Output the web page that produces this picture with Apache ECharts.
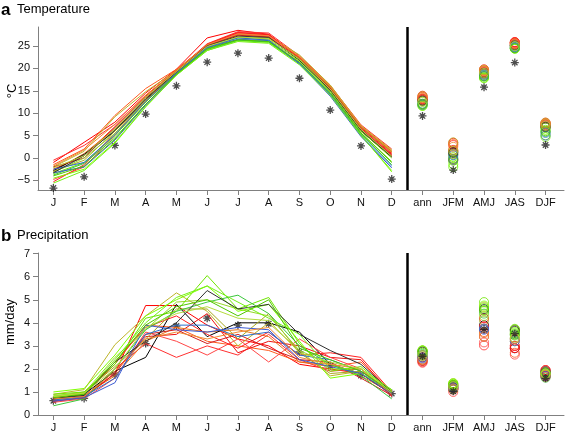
<!DOCTYPE html>
<html><head><meta charset="utf-8">
<script src="https://cdn.jsdelivr.net/npm/echarts@6.0.0/dist/echarts.min.js"></script>
<style>html,body{margin:0;padding:0;background:#fff}#c{width:567px;height:433px}</style>
</head><body><div id="c"></div>
<script>
// ---------- data ----------
const months = ['J','F','M','A','M','J','J','A','S','O','N','D'];
const seasons = ['ann','JFM','AMJ','JAS','DJF'];
const tempTicks = [-5,0,5,10,15,20,25];
const precipTicks = [0,1,2,3,4,5,6,7];

const modelColors = ['#ff0000','#ff3030','#ff5a1e','#bdb42a','#f01010','#e8741c','#000000','#ff4646','#ff2020','#d21e1e','#a8a820','#98d82a','#6ee600','#80ff00','#3cc83c','#3c5ad2','#2a6ecc','#303030','#74f014','#f08c32','#50c800','#b4dc3c'];

const tempObsMonthly = [-6.7,-4.2,2.8,9.8,16.1,21.4,23.4,22.3,17.8,10.7,2.7,-4.7];
const tempObsSeasonal = [9.4,-2.7,15.8,21.3,2.9];
const precipObsMonthly = [0.62,0.72,1.74,3.1,3.86,4.2,3.9,3.96,2.74,2.14,1.71,0.93];
const precipObsSeasonal = [2.55,1.03,3.72,3.53,1.59];

const tempModelMonthly = [
 [-1.0,3.5,8.0,14.5,19.8,26.8,28.5,27.6,22.5,16.0,7.0,1.5],
 [-0.5,2.8,7.5,14.0,19.5,25.5,28.2,27.9,22.8,16.2,7.4,2.0],
 [-1.5,2.0,9.5,15.5,19.8,25.2,27.8,27.4,22.3,15.8,7.0,1.2],
 [-2.0,1.5,9.2,14.8,19.5,25.0,27.5,27.2,23.0,16.3,7.2,1.8],
 [-2.5,0.5,7.0,13.8,19.6,25.3,28.0,27.5,22.2,15.5,6.5,0.8],
 [-3.0,1.0,6.5,13.5,19.2,25.0,27.6,27.0,22.0,15.2,6.2,0.5],
 [-2.8,0.8,6.0,13.0,19.0,24.8,27.0,26.8,21.8,15.0,6.0,0.2],
 [-4.8,-2.0,5.0,12.5,19.0,25.0,27.8,27.2,22.0,15.3,6.6,0.6],
 [-5.3,-1.5,5.5,12.8,19.2,25.4,28.0,27.6,22.4,15.7,6.8,1.0],
 [-2.0,0.0,6.8,13.5,19.4,25.2,27.4,27.0,22.0,15.6,6.5,0.6],
 [-3.0,-0.5,6.0,13.2,19.0,24.8,27.0,26.6,22.2,15.9,7.0,1.4],
 [-3.2,0.0,5.5,12.8,18.8,24.5,26.8,26.4,21.6,15.0,6.0,0.0],
 [-3.5,-1.0,5.0,12.5,18.8,24.3,26.4,26.0,21.3,14.6,5.6,-0.8],
 [-4.5,-2.5,3.5,11.5,18.5,24.0,26.2,25.8,21.0,14.2,5.2,-3.1],
 [-3.8,-1.2,4.5,12.0,18.6,24.2,26.3,25.9,21.2,14.4,5.4,-1.5],
 [-3.3,-2.0,4.0,11.8,18.8,24.6,26.5,26.2,21.0,13.8,4.8,-2.2],
 [-2.5,-1.0,5.2,12.6,19.0,24.7,26.8,26.3,21.2,14.2,5.0,-1.8],
 [-3.3,0.5,6.2,13.2,19.2,25.0,27.2,26.9,21.9,15.2,6.2,0.3],
 [-5.6,-2.8,3.3,11.4,18.5,24.0,26.0,25.6,20.8,14.0,5.0,-2.8],
 [-1.8,1.8,7.5,14.0,19.6,25.3,27.7,27.3,22.6,16.0,7.2,1.6],
 [-4.0,-1.8,4.2,12.0,18.7,24.4,26.4,26.0,21.4,14.6,5.6,-1.0],
 [-2.2,0.5,6.5,13.6,19.3,24.9,27.0,26.7,22.0,15.4,6.4,0.4]
];
const tempModelSeasonal = [
 [13.9,3.4,19.8,25.9,7.8],[13.7,2.9,19.5,25.8,7.9],[13.6,3.1,19.6,25.6,7.6],[13.8,3.5,19.7,25.7,7.9],
 [13.3,1.8,19.3,25.7,7.3],[13.1,1.6,19.1,25.4,7.0],[12.7,1.3,18.9,25.1,6.8],[12.9,-0.4,18.8,25.5,7.2],
 [13.2,-0.2,19.0,25.8,7.5],[13.0,1.5,19.1,25.3,7.1],[12.8,0.8,18.8,25.2,7.6],[12.5,0.8,18.6,24.9,6.8],
 [12.1,0.2,18.4,24.7,6.3],[11.6,-1.4,17.9,24.4,5.1],[11.9,-0.2,18.2,24.5,5.8],[11.8,-0.4,18.3,24.6,5.0],
 [12.1,0.6,18.6,24.8,5.6],[12.8,1.1,19.0,25.1,7.0],[11.7,-2.0,17.8,24.4,4.7],[13.4,2.5,19.4,25.6,7.7],
 [12.0,-0.6,18.2,24.5,6.0],[12.6,1.6,19.0,25.0,7.2]
];
const precipModelMonthly = [
 [0.7,0.8,1.8,4.75,4.75,3.9,3.3,3.0,2.2,2.0,1.8,0.9],
 [0.6,0.75,2.0,3.1,2.5,3.0,2.6,3.5,2.4,1.9,2.0,0.85],
 [0.8,0.9,2.2,3.9,3.8,3.2,3.0,2.8,2.3,2.1,2.3,1.0],
 [0.9,1.1,3.05,4.3,5.3,4.5,3.0,4.0,2.8,1.7,1.9,1.05],
 [0.7,0.8,1.9,3.4,3.5,4.4,2.7,3.2,3.0,2.5,2.4,0.9],
 [0.65,0.85,1.7,3.2,3.8,3.6,3.7,3.4,2.3,2.2,1.7,0.95],
 [0.7,0.9,1.9,2.5,4.8,3.4,4.0,4.0,3.6,2.2,1.8,0.9],
 [0.55,0.7,1.6,3.6,3.2,2.6,3.3,2.3,3.3,2.5,2.0,0.8],
 [0.75,0.95,2.3,3.8,4.3,3.5,2.9,3.6,2.6,2.7,2.5,1.0],
 [0.6,0.75,1.8,3.5,3.7,3.1,3.5,2.9,2.4,2.3,1.6,0.85],
 [0.8,1.0,2.1,3.3,4.6,4.6,3.3,4.4,2.7,1.8,1.9,1.05],
 [0.85,0.95,2.5,3.7,4.9,5.0,4.6,4.3,2.8,2.2,1.8,1.1],
 [0.9,1.0,2.2,4.2,4.5,6.05,4.6,5.1,3.1,1.9,2.1,1.0],
 [1.0,1.15,2.6,4.3,5.0,5.6,4.5,4.8,3.2,1.6,1.8,1.0],
 [0.4,0.7,2.0,3.7,4.5,4.9,5.2,4.4,3.0,2.2,1.7,0.7],
 [0.6,0.75,1.4,3.9,3.7,3.6,3.8,3.7,2.4,2.1,1.8,0.9],
 [0.65,0.8,1.6,3.5,3.9,3.9,3.4,3.6,2.6,2.4,1.9,0.95],
 [0.7,0.85,2.3,3.2,4.0,5.4,4.6,4.8,3.5,2.8,2.2,1.0],
 [0.8,0.9,2.4,4.0,5.1,5.6,4.9,4.2,3.5,2.0,2.0,1.1],
 [0.7,0.8,1.9,3.3,3.6,3.3,3.6,3.8,2.5,2.2,2.0,0.9],
 [0.75,0.9,2.3,3.9,4.7,5.0,4.3,5.0,2.9,2.4,1.9,1.0],
 [0.8,0.95,2.0,3.8,4.4,4.7,4.2,4.1,2.7,2.3,2.0,1.0]
];
const precipModelSeasonal = [
 [2.5,1.15,4.2,2.9,1.7],[2.27,1.2,3.02,3.0,1.65],[2.4,1.3,3.6,2.7,1.8],[2.8,1.38,4.7,3.3,1.75],
 [2.35,1.15,3.75,2.9,1.95],[2.4,1.12,3.55,3.2,1.7],[2.6,1.2,3.9,3.7,1.9],[2.3,1.0,3.15,2.62,1.85],
 [2.5,1.3,3.85,3.0,1.95],[2.35,1.1,3.4,2.9,1.7],[2.55,1.25,4.1,3.5,1.75],[2.75,1.3,4.5,3.7,1.8],
 [2.8,1.35,4.9,3.74,1.8],[2.8,1.38,4.75,3.6,1.75],[2.65,1.12,4.4,3.5,1.62],[2.45,1.15,3.7,3.3,1.7],
 [2.5,1.2,3.75,3.2,1.8],[2.75,1.25,4.6,3.65,1.85],[2.8,1.3,4.65,3.55,1.8],[2.4,1.15,3.4,3.3,1.75],
 [2.7,1.3,4.55,3.45,1.85],[2.6,1.25,4.3,3.35,1.8]
];

// ---------- chart ----------
const FONT = '"Liberation Sans", Arial, sans-serif';
const xLabels = months.concat(seasons);
const xTicks = xLabels.map((_, i) => i + 1);
const separatorX = months.length + 0.5;
const starPath = 'path://M5,0L5,10M0,5L10,5M1.6,1.6L8.4,8.4M1.6,8.4L8.4,1.6';
const axisGray = '#808080';

function xAxisFor(g) {
  return {
    type: 'value', gridIndex: g, min: 0.5, max: 17.6,
    axisLine: { show: true, onZero: false, lineStyle: { color: axisGray, width: 1 } },
    axisTick: { show: true, length: 5, customValues: xTicks, lineStyle: { color: axisGray } },
    axisLabel: { customValues: xTicks, formatter: v => xLabels[Math.round(v) - 1], color: '#111', fontSize: 11, fontFamily: FONT, margin: 7 },
    splitLine: { show: false }
  };
}
function yAxisFor(g, min, max, ticks) {
  return {
    type: 'value', gridIndex: g, min: min, max: max,
    axisLine: { show: true, onZero: false, lineStyle: { color: axisGray, width: 1 } },
    axisTick: { show: true, length: 5, customValues: ticks, lineStyle: { color: axisGray } },
    axisLabel: { customValues: ticks, formatter: v => v < 0 ? '\u2212' + Math.abs(v) : String(v), color: '#111', fontSize: 11, fontFamily: FONT, margin: 8 },
    splitLine: { show: false }
  };
}

const series = [];
function addPanel(g, monthly, seasonal, obsM, obsS) {
  monthly.forEach((vals, i) => {
    series.push({
      type: 'line', xAxisIndex: g, yAxisIndex: g, silent: true, animation: false,
      showSymbol: false, symbol: 'none',
      lineStyle: { color: modelColors[i], width: 1 },
      data: vals.map((v, j) => [j + 1, v])
    });
  });
  seasonal.forEach((vals, i) => {
    series.push({
      type: 'scatter', xAxisIndex: g, yAxisIndex: g, silent: true, animation: false,
      symbol: 'circle', symbolSize: 9,
      itemStyle: { color: 'rgba(0,0,0,0)', borderColor: modelColors[i], borderWidth: 1 },
      data: vals.map((v, k) => [months.length + 1 + k, v])
    });
  });
  series.push({
    type: 'scatter', xAxisIndex: g, yAxisIndex: g, silent: true, animation: false,
    symbol: starPath, symbolSize: 8,
    itemStyle: { color: 'rgba(0,0,0,0)', borderColor: '#222', borderWidth: 1.3 },
    data: obsM.map((v, j) => [j + 1, v]).concat(obsS.map((v, k) => [months.length + 1 + k, v])),
    markLine: {
      silent: true, symbol: ['none', 'none'], animation: false,
      label: { show: false },
      lineStyle: { color: '#000', width: 2.5, type: 'solid' },
      data: [{ xAxis: separatorX }]
    }
  });
}
addPanel(0, tempModelMonthly, tempModelSeasonal, tempObsMonthly, tempObsSeasonal);
addPanel(1, precipModelMonthly, precipModelSeasonal, precipObsMonthly, precipObsSeasonal);

const chart = echarts.init(document.getElementById('c'), null, { renderer: 'canvas' });
chart.setOption({
  backgroundColor: '#fff',
  animation: false,
  grid: [
    { left: 38, top: 27, width: 526, height: 163 },
    { left: 38, top: 253, width: 526, height: 164 }
  ],
  xAxis: [xAxisFor(0), xAxisFor(1)],
  yAxis: [yAxisFor(0, -7.14, 29.24, tempTicks), yAxisFor(1, 0, 7.03, precipTicks)],
  graphic: [
    { type: 'text', x: 1, y: 2, style: { text: 'a', font: 'bold 17px ' + FONT, fill: '#000' } },
    { type: 'text', x: 17, y: 3, style: { text: 'Temperature', font: '13px ' + FONT, fill: '#000' } },
    { type: 'text', x: 1, y: 228, style: { text: 'b', font: 'bold 17px ' + FONT, fill: '#000' } },
    { type: 'text', x: 17, y: 229, style: { text: 'Precipitation', font: '13px ' + FONT, fill: '#000' } },
    { type: 'text', x: 12, y: 91, rotation: Math.PI / 2, style: { text: '°C', font: '13px ' + FONT, fill: '#000', align: 'center', verticalAlign: 'middle' } },
    { type: 'text', x: 10, y: 322, rotation: Math.PI / 2, style: { text: 'mm/day', font: '13px ' + FONT, fill: '#000', align: 'center', verticalAlign: 'middle' } }
  ],
  series: series
});
</script>
</body></html>
